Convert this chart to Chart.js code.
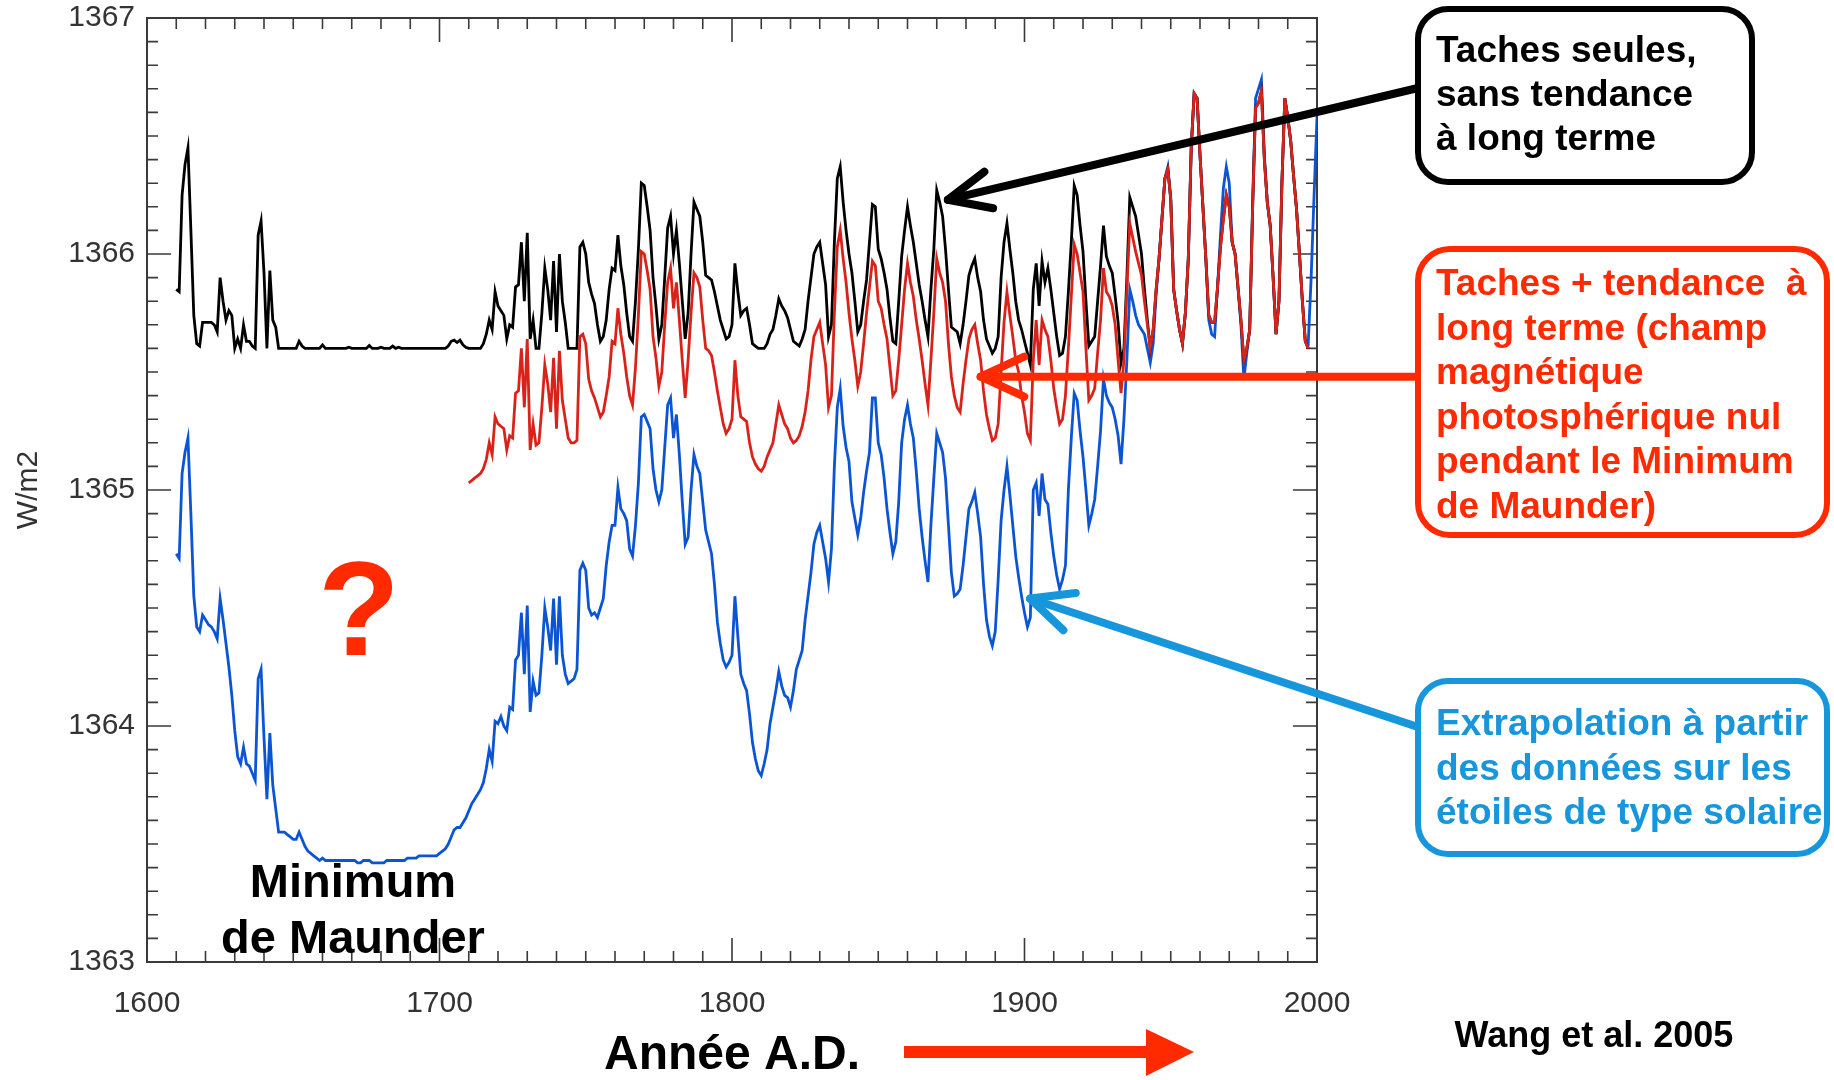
<!DOCTYPE html>
<html>
<head>
<meta charset="utf-8">
<script src="https://cdn.jsdelivr.net/npm/chart.js@4/dist/chart.umd.min.js"></script>
<style>
html,body{margin:0;padding:0;background:#fff;overflow:hidden}
canvas{display:block}
</style>
</head>
<body>
<canvas id="c" width="1834" height="1080"></canvas>
<script>
// ---------- DATA ----------
const years = [
1610,1611,1612,1613,1614,1615,1616,1617,1618,1619,
1620,1621,1622,1623,1624,1625,1626,1627,1628,1629,
1630,1631,1632,1633,1634,1635,1636,1637,1638,1639,
1640,1641,1642,1643,1644,1645,1646,1647,1648,1649,
1650,1651,1652,1653,1654,1655,1656,1657,1658,1659,
1660,1661,1662,1663,1664,1665,1666,1667,1668,1669,
1670,1671,1672,1673,1674,1675,1676,1677,1678,1679,
1680,1681,1682,1683,1684,1685,1686,1687,1688,1689,
1690,1691,1692,1693,1694,1695,1696,1697,1698,1699,
1700,1701,1702,1703,1704,1705,1706,1707,1708,1709,
1710,1711,1712,1713,1714,1715,1716,1717,1718,1719,
1720,1721,1722,1723,1724,1725,1726,1727,1728,1729,
1730,1731,1732,1733,1734,1735,1736,1737,1738,1739,
1740,1741,1742,1743,1744,1745,1746,1747,1748,1749,
1750,1751,1752,1753,1754,1755,1756,1757,1758,1759,
1760,1761,1762,1763,1764,1765,1766,1767,1768,1769,
1770,1771,1772,1773,1774,1775,1776,1777,1778,1779,
1780,1781,1782,1783,1784,1785,1786,1787,1788,1789,
1790,1791,1792,1793,1794,1795,1796,1797,1798,1799,
1800,1801,1802,1803,1804,1805,1806,1807,1808,1809,
1810,1811,1812,1813,1814,1815,1816,1817,1818,1819,
1820,1821,1822,1823,1824,1825,1826,1827,1828,1829,
1830,1831,1832,1833,1834,1835,1836,1837,1838,1839,
1840,1841,1842,1843,1844,1845,1846,1847,1848,1849,
1850,1851,1852,1853,1854,1855,1856,1857,1858,1859,
1860,1861,1862,1863,1864,1865,1866,1867,1868,1869,
1870,1871,1872,1873,1874,1875,1876,1877,1878,1879,
1880,1881,1882,1883,1884,1885,1886,1887,1888,1889,
1890,1891,1892,1893,1894,1895,1896,1897,1898,1899,
1900,1901,1902,1903,1904,1905,1906,1907,1908,1909,
1910,1911,1912,1913,1914,1915,1916,1917,1918,1919,
1920,1921,1922,1923,1924,1925,1926,1927,1928,1929,
1930,1931,1932,1933,1934,1935,1936,1937,1938,1939,
1940,1941,1942,1943,1944,1945,1946,1947,1948,1949,
1950,1951,1952,1953,1954,1955,1956,1957,1958,1959,
1960,1961,1962,1963,1964,1965,1966,1967,1968,1969,
1970,1971,1972,1973,1974,1975,1976,1977,1978,1979,
1980,1981,1982,1983,1984,1985,1986,1987,1988,1989,
1990,1991,1992,1993,1994,1995,1996,1997,1998,1999,
2000];

// Black: sunspots only, no long-term trend (W/m2)
const sunspotsOnly = [
1365.85,1365.84,1366.25,1366.38,1366.45,1366.10,1365.74,1365.62,1365.61,1365.71,
1365.71,1365.71,1365.71,1365.70,1365.67,1365.90,1365.80,1365.72,1365.76,1365.74,
1365.60,1365.64,1365.60,1365.70,1365.63,1365.63,1365.61,1365.60,1366.08,1366.14,
1365.92,1365.60,1365.93,1365.72,1365.69,1365.60,1365.60,1365.60,1365.60,1365.60,
1365.60,1365.60,1365.63,1365.61,1365.60,1365.60,1365.60,1365.60,1365.60,1365.60,
1365.615,1365.60,1365.60,1365.60,1365.60,1365.60,1365.60,1365.60,1365.60,1365.605,
1365.60,1365.60,1365.60,1365.60,1365.60,1365.60,1365.612,1365.60,1365.60,1365.60,
1365.605,1365.60,1365.60,1365.60,1365.61,1365.60,1365.605,1365.60,1365.60,1365.60,
1365.60,1365.60,1365.60,1365.60,1365.60,1365.60,1365.60,1365.60,1365.60,1365.60,
1365.60,1365.60,1365.60,1365.61,1365.63,1365.635,1365.625,1365.635,1365.615,1365.605,
1365.60,1365.60,1365.60,1365.60,1365.60,1365.62,1365.66,1365.72,1365.68,1365.84,
1365.78,1365.76,1365.74,1365.64,1365.70,1365.69,1365.86,1365.87,1366.05,1365.80,
1366.09,1365.64,1365.72,1365.60,1365.60,1365.75,1365.94,1365.85,1365.72,1365.97,
1365.67,1366.00,1365.80,1365.71,1365.60,1365.60,1365.60,1365.60,1366.03,1366.05,
1366.00,1365.88,1365.83,1365.79,1365.70,1365.63,1365.65,1365.72,1365.85,1365.94,
1365.93,1366.08,1365.95,1365.87,1365.75,1365.65,1365.63,1365.80,1366.02,1366.30,
1366.29,1366.20,1366.10,1365.90,1365.78,1365.64,1365.70,1365.90,1366.11,1366.16,
1366.00,1366.10,1365.96,1365.80,1365.64,1365.75,1366.00,1366.22,1366.19,1366.16,
1366.05,1365.91,1365.90,1365.89,1365.84,1365.78,1365.72,1365.68,1365.64,1365.65,
1365.70,1365.96,1365.84,1365.74,1365.76,1365.77,1365.70,1365.62,1365.61,1365.60,
1365.60,1365.60,1365.62,1365.66,1365.68,1365.74,1365.81,1365.78,1365.76,1365.73,
1365.68,1365.63,1365.62,1365.61,1365.64,1365.68,1365.80,1365.90,1366.00,1366.03,
1366.05,1365.96,1365.87,1365.65,1365.70,1366.05,1366.32,1366.37,1366.22,1366.10,
1366.00,1365.92,1365.80,1365.67,1365.70,1365.80,1365.89,1366.05,1366.21,1366.20,
1366.02,1365.98,1365.92,1365.85,1365.73,1365.63,1365.62,1365.80,1365.99,1366.10,
1366.20,1366.12,1366.05,1365.96,1365.87,1365.80,1365.72,1365.65,1365.85,1366.02,
1366.27,1366.22,1366.16,1366.02,1365.85,1365.69,1365.68,1365.67,1365.62,1365.70,
1365.80,1365.91,1365.95,1365.98,1365.90,1365.84,1365.72,1365.64,1365.61,1365.58,
1365.60,1365.65,1365.90,1366.05,1366.13,1366.02,1365.92,1365.80,1365.72,1365.68,
1365.63,1365.58,1365.53,1365.85,1365.96,1365.78,1365.97,1365.88,1365.94,1365.85,
1365.75,1365.65,1365.57,1365.58,1365.65,1365.84,1366.05,1366.29,1366.25,1366.12,
1366.01,1365.80,1365.61,1365.63,1365.65,1365.80,1365.95,1366.12,1365.99,1365.95,
1365.92,1365.82,1365.71,1365.54,1365.60,1365.90,1366.24,1366.20,1366.16,1366.08,
1366.00,1365.85,1365.72,1365.60,1365.68,1365.85,1365.98,1366.15,1366.32,1366.36,
1366.23,1365.85,1365.76,1365.68,1365.62,1365.75,1365.98,1366.45,1366.68,1366.66,
1366.42,1366.20,1365.98,1365.74,1365.71,1365.71,1365.86,1366.03,1366.15,1366.25,
1366.20,1366.05,1366.00,1365.86,1365.72,1365.55,1365.60,1365.68,1366.20,1366.62,
1366.64,1366.69,1366.40,1366.22,1366.12,1365.90,1365.66,1365.80,1366.30,1366.66,
1366.58,1366.48,1366.33,1366.19,1366.00,1365.80,1365.63,1365.60,null,null,
null];

// Red: sunspots + long-term trend (zero photospheric field during the Maunder Minimum)
const withTrend = [
null,null,null,null,null,null,null,null,null,null,
null,null,null,null,null,null,null,null,null,null,
null,null,null,null,null,null,null,null,null,null,
null,null,null,null,null,null,null,null,null,null,
null,null,null,null,null,null,null,null,null,null,
null,null,null,null,null,null,null,null,null,null,
null,null,null,null,null,null,null,null,null,null,
null,null,null,null,null,null,null,null,null,null,
null,null,null,null,null,null,null,null,null,null,
null,null,null,null,null,null,null,null,null,null,
1365.03,1365.04,1365.05,1365.06,1365.07,1365.09,1365.13,1365.20,1365.15,1365.31,
1365.28,1365.27,1365.26,1365.17,1365.23,1365.22,1365.41,1365.42,1365.60,1365.35,
1365.64,1365.17,1365.28,1365.19,1365.20,1365.35,1365.53,1365.45,1365.33,1365.56,
1365.26,1365.59,1365.38,1365.30,1365.22,1365.20,1365.20,1365.21,1365.65,1365.66,
1365.62,1365.47,1365.42,1365.39,1365.35,1365.31,1365.33,1365.40,1365.48,1365.63,
1365.62,1365.77,1365.66,1365.58,1365.48,1365.40,1365.36,1365.52,1365.74,1366.01,
1366.00,1365.93,1365.85,1365.65,1365.56,1365.44,1365.50,1365.70,1365.88,1365.94,
1365.77,1365.88,1365.72,1365.55,1365.39,1365.55,1365.75,1365.92,1365.90,1365.86,
1365.72,1365.60,1365.59,1365.57,1365.50,1365.42,1365.35,1365.28,1365.24,1365.26,
1365.30,1365.55,1365.40,1365.31,1365.30,1365.29,1365.20,1365.14,1365.11,1365.09,
1365.08,1365.10,1365.14,1365.17,1365.20,1365.28,1365.36,1365.32,1365.28,1365.26,
1365.22,1365.20,1365.21,1365.23,1365.27,1365.33,1365.42,1365.55,1365.65,1365.68,
1365.71,1365.62,1365.53,1365.35,1365.40,1365.75,1366.03,1366.10,1365.98,1365.88,
1365.75,1365.64,1365.55,1365.44,1365.50,1365.62,1365.75,1365.86,1365.97,1365.95,
1365.80,1365.77,1365.70,1365.64,1365.52,1365.40,1365.42,1365.55,1365.70,1365.85,
1365.96,1365.88,1365.82,1365.72,1365.64,1365.55,1365.45,1365.36,1365.55,1365.75,
1365.98,1365.92,1365.88,1365.80,1365.62,1365.48,1365.40,1365.35,1365.33,1365.45,
1365.55,1365.64,1365.68,1365.70,1365.62,1365.55,1365.42,1365.32,1365.26,1365.21,
1365.22,1365.28,1365.50,1365.71,1365.84,1365.74,1365.65,1365.55,1365.50,1365.40,
1365.33,1365.24,1365.21,1365.55,1365.72,1365.53,1365.72,1365.68,1365.65,1365.55,
1365.43,1365.35,1365.28,1365.30,1365.40,1365.60,1365.82,1366.04,1366.00,1365.92,
1365.84,1365.60,1365.38,1365.40,1365.43,1365.58,1365.72,1365.94,1365.84,1365.82,
1365.78,1365.70,1365.55,1365.41,1365.55,1365.85,1366.13,1366.07,1366.01,1365.96,
1365.91,1365.80,1365.70,1365.60,1365.68,1365.85,1365.98,1366.15,1366.32,1366.36,
1366.23,1365.85,1365.76,1365.68,1365.62,1365.75,1365.98,1366.45,1366.68,1366.66,
1366.42,1366.20,1365.98,1365.74,1365.71,1365.71,1365.86,1366.03,1366.15,1366.25,
1366.20,1366.05,1366.00,1365.86,1365.72,1365.55,1365.60,1365.68,1366.20,1366.62,
1366.64,1366.69,1366.40,1366.22,1366.12,1365.90,1365.66,1365.80,1366.30,1366.66,
1366.58,1366.48,1366.33,1366.19,1366.00,1365.80,1365.63,1365.60,null,null,
null];

// Blue: extrapolation from data on solar-type stars
const stellarExtrap = [
1364.73,1364.71,1365.07,1365.16,1365.22,1364.90,1364.55,1364.42,1364.40,1364.47,
1364.45,1364.43,1364.42,1364.40,1364.37,1364.54,1364.45,1364.35,1364.25,1364.13,
1363.98,1363.87,1363.84,1363.91,1363.84,1363.83,1363.80,1363.77,1364.20,1364.24,
1363.95,1363.69,1363.97,1363.75,1363.65,1363.55,1363.55,1363.55,1363.54,1363.53,
1363.52,1363.52,1363.55,1363.52,1363.49,1363.47,1363.46,1363.45,1363.44,1363.43,
1363.44,1363.43,1363.43,1363.43,1363.43,1363.43,1363.43,1363.43,1363.43,1363.43,
1363.43,1363.43,1363.42,1363.42,1363.43,1363.43,1363.43,1363.42,1363.42,1363.42,
1363.42,1363.42,1363.43,1363.43,1363.43,1363.43,1363.43,1363.43,1363.43,1363.44,
1363.44,1363.44,1363.44,1363.45,1363.45,1363.45,1363.45,1363.45,1363.45,1363.45,
1363.46,1363.47,1363.48,1363.50,1363.53,1363.56,1363.57,1363.57,1363.59,1363.61,
1363.64,1363.67,1363.69,1363.71,1363.73,1363.76,1363.82,1363.90,1363.85,1364.02,
1364.01,1364.04,1364.00,1363.98,1364.08,1364.07,1364.28,1364.30,1364.48,1364.22,
1364.51,1364.06,1364.19,1364.13,1364.14,1364.30,1364.50,1364.42,1364.32,1364.54,
1364.26,1364.55,1364.30,1364.22,1364.18,1364.19,1364.20,1364.24,1364.66,1364.69,
1364.66,1364.50,1364.47,1364.48,1364.46,1364.50,1364.54,1364.68,1364.78,1364.85,
1364.85,1365.01,1364.92,1364.90,1364.87,1364.75,1364.72,1364.85,1365.03,1365.31,
1365.32,1365.29,1365.26,1365.09,1365.00,1364.95,1365.00,1365.18,1365.36,1365.39,
1365.22,1365.32,1365.15,1364.95,1364.77,1364.80,1365.00,1365.15,1365.10,1365.07,
1364.95,1364.83,1364.78,1364.73,1364.60,1364.44,1364.35,1364.28,1364.25,1364.27,
1364.30,1364.55,1364.38,1364.22,1364.18,1364.15,1364.05,1363.93,1363.86,1363.81,
1363.79,1363.84,1363.90,1364.01,1364.08,1364.15,1364.23,1364.17,1364.13,1364.12,
1364.08,1364.15,1364.24,1364.28,1364.32,1364.45,1364.55,1364.65,1364.77,1364.82,
1364.85,1364.78,1364.71,1364.61,1364.75,1365.10,1365.35,1365.43,1365.27,1365.18,
1365.12,1364.95,1364.88,1364.81,1364.88,1364.99,1365.08,1365.16,1365.39,1365.39,
1365.20,1365.15,1365.05,1364.92,1364.82,1364.73,1364.78,1364.95,1365.20,1365.30,
1365.36,1365.28,1365.22,1365.08,1364.92,1364.80,1364.70,1364.61,1364.85,1365.05,
1365.24,1365.20,1365.16,1365.05,1364.85,1364.65,1364.55,1364.56,1364.58,1364.68,
1364.80,1364.92,1364.95,1364.99,1364.90,1364.80,1364.60,1364.45,1364.38,1364.34,
1364.40,1364.62,1364.87,1365.00,1365.10,1364.98,1364.85,1364.72,1364.63,1364.55,
1364.48,1364.42,1364.46,1365.00,1365.03,1364.89,1365.07,1364.96,1364.94,1364.82,
1364.72,1364.64,1364.58,1364.62,1364.68,1365.00,1365.22,1365.41,1365.38,1365.25,
1365.14,1365.00,1364.85,1364.90,1364.96,1365.10,1365.25,1365.47,1365.40,1365.37,
1365.35,1365.30,1365.23,1365.11,1365.30,1365.55,1365.85,1365.80,1365.74,1365.70,
1365.68,1365.66,1365.60,1365.54,1365.62,1365.83,1365.98,1366.15,1366.32,1366.37,
1366.24,1365.85,1365.76,1365.68,1365.62,1365.75,1365.98,1366.45,1366.68,1366.66,
1366.42,1366.20,1365.98,1365.72,1365.66,1365.65,1365.86,1366.08,1366.28,1366.37,
1366.30,1366.05,1366.00,1365.85,1365.70,1365.47,1365.58,1365.68,1366.22,1366.66,
1366.70,1366.74,1366.42,1366.22,1366.12,1365.90,1365.66,1365.80,1366.30,1366.66,
1366.58,1366.48,1366.33,1366.19,1366.00,1365.80,1365.63,1365.62,1365.90,1366.25,
1366.58];

const xTickValues = [1600, 1700, 1800, 1900, 2000];
const yTickValues = [1363, 1364, 1365, 1366, 1367];

// ---------- annotation texts ----------
const boxBlackLines = ['Taches seules,', 'sans tendance', 'à long terme'];
const boxRedLines = ['Taches + tendance  à', 'long terme (champ', 'magnétique', 'photosphérique nul', 'pendant le Minimum', 'de Maunder)'];
const boxBlueLines = ['Extrapolation à partir', 'des données sur les', 'étoiles de type solaire'];

// ---------- styles ----------
const RED_ANN = '#ff2a00';
const BLUE_ANN = '#1896dc';
const FONT = "'Liberation Sans', Arial, Helvetica, sans-serif";
Chart.defaults.font.family = FONT;

const toXY = (vals) => years.map((yr, i) => ({ x: yr, y: vals[i] }));

// frame + inward ticks (drawn under the data lines)
const framePlugin = {
  id: 'frameTicks',
  beforeDatasetsDraw(chart) {
    const { ctx, chartArea: a, scales: { x, y } } = chart;
    ctx.save();
    ctx.strokeStyle = '#3a3a3a';
    ctx.lineWidth = 2;
    ctx.strokeRect(a.left, a.top, a.right - a.left, a.bottom - a.top);
    ctx.lineWidth = 1.6;
    ctx.beginPath();
    for (let i = 0; i <= 40; i++) {
      const v = yTickValues[0] + i * 0.1;
      const py = y.getPixelForValue(v);
      const len = (i % 10 === 0) ? 24 : 11;
      ctx.moveTo(a.left, py); ctx.lineTo(a.left + len, py);
      ctx.moveTo(a.right, py); ctx.lineTo(a.right - len, py);
    }
    for (let i = 0; i <= 40; i++) {
      const v = xTickValues[0] + i * 10;
      const px = x.getPixelForValue(v);
      const len = (i % 10 === 0) ? 24 : 11;
      ctx.moveTo(px, a.bottom); ctx.lineTo(px, a.bottom - len);
      ctx.moveTo(px, a.top); ctx.lineTo(px, a.top + len);
    }
    ctx.stroke();
    ctx.restore();
  }
};

function chevronArrow(ctx, x0, y0, x1, y1, color, width, headLen, headAng) {
  ctx.save();
  ctx.strokeStyle = color;
  ctx.lineWidth = width;
  ctx.lineCap = 'round';
  ctx.lineJoin = 'round';
  ctx.beginPath();
  ctx.moveTo(x0, y0);
  ctx.lineTo(x1, y1);
  ctx.stroke();
  const ang = Math.atan2(y0 - y1, x0 - x1);
  ctx.beginPath();
  ctx.moveTo(x1 + headLen * Math.cos(ang + headAng), y1 + headLen * Math.sin(ang + headAng));
  ctx.lineTo(x1, y1);
  ctx.lineTo(x1 + headLen * Math.cos(ang - headAng), y1 + headLen * Math.sin(ang - headAng));
  ctx.stroke();
  ctx.restore();
}

function roundBox(ctx, x, y, w, h, r, color, lw) {
  ctx.save();
  ctx.strokeStyle = color;
  ctx.lineWidth = lw;
  ctx.fillStyle = '#fff';
  ctx.beginPath();
  ctx.moveTo(x + r, y);
  ctx.arcTo(x + w, y, x + w, y + h, r);
  ctx.arcTo(x + w, y + h, x, y + h, r);
  ctx.arcTo(x, y + h, x, y, r);
  ctx.arcTo(x, y, x + w, y, r);
  ctx.closePath();
  ctx.fill();
  ctx.stroke();
  ctx.restore();
}

function textLines(ctx, lines, x, y0, step, color, font) {
  ctx.save();
  ctx.fillStyle = color;
  ctx.font = font;
  ctx.textAlign = 'left';
  ctx.textBaseline = 'alphabetic';
  lines.forEach((t, i) => ctx.fillText(t, x, y0 + i * step));
  ctx.restore();
}

// arrow tips given in data coordinates
const arrowTips = {
  black: { x: 1873.8, y: 1366.23 },
  red:   { x: 1885.0, y: 1365.48 },
  blue:  { x: 1901.9, y: 1364.54 }
};

const annotPlugin = {
  id: 'annotations',
  afterDraw(chart) {
    const { ctx, scales: { x, y } } = chart;
    const boxFont = 'bold 37px ' + FONT;

    const bt = { x: x.getPixelForValue(arrowTips.black.x), y: y.getPixelForValue(arrowTips.black.y) };
    const rt = { x: x.getPixelForValue(arrowTips.red.x),   y: y.getPixelForValue(arrowTips.red.y) };
    const ut = { x: x.getPixelForValue(arrowTips.blue.x),  y: y.getPixelForValue(arrowTips.blue.y) };
    chevronArrow(ctx, 1418, 88, bt.x, bt.y, '#000', 8, 46, 0.42);
    chevronArrow(ctx, 1418, rt.y, rt.x, rt.y, RED_ANN, 8, 48, 0.43);
    chevronArrow(ctx, 1418, 727, ut.x, ut.y, BLUE_ANN, 8, 46, 0.44);

    roundBox(ctx, 1418, 9, 334, 173, 30, '#000', 6);
    roundBox(ctx, 1418, 249, 409, 286, 32, RED_ANN, 6);
    roundBox(ctx, 1418, 681, 409, 173, 30, BLUE_ANN, 6);
    textLines(ctx, boxBlackLines, 1436, 62, 44, '#000', boxFont);
    textLines(ctx, boxRedLines, 1436, 295, 44.6, RED_ANN, boxFont);
    textLines(ctx, boxBlueLines, 1436, 735, 44.5, BLUE_ANN, boxFont);

    ctx.save();
    ctx.fillStyle = RED_ANN;
    ctx.font = 'bold 134px ' + FONT;
    ctx.textAlign = 'center';
    ctx.textBaseline = 'alphabetic';
    ctx.fillText('?', 359, 655);
    ctx.fillStyle = '#000';
    ctx.font = 'bold 47px ' + FONT;
    ctx.fillText('Minimum', 353, 897);
    ctx.fillText('de Maunder', 353, 953);
    ctx.font = 'bold 36px ' + FONT;
    ctx.fillText('Wang et al. 2005', 1594, 1047);
    ctx.fillStyle = RED_ANN;
    ctx.fillRect(904, 1046, 246, 12);
    ctx.beginPath();
    ctx.moveTo(1146, 1029);
    ctx.lineTo(1194, 1052);
    ctx.lineTo(1146, 1076);
    ctx.closePath();
    ctx.fill();
    ctx.restore();
  }
};

new Chart(document.getElementById('c'), {
  type: 'line',
  data: {
    datasets: [
      { label: 'Taches + tendance à long terme', data: toXY(withTrend), borderColor: '#d9231a', borderWidth: 2.8, pointRadius: 0, tension: 0, order: 0 },
      { label: 'Taches seules', data: toXY(sunspotsOnly), borderColor: '#000000', borderWidth: 2.8, pointRadius: 0, tension: 0, order: 1 },
      { label: 'Extrapolation étoiles de type solaire', data: toXY(stellarExtrap), borderColor: '#0b55d4', borderWidth: 2.8, pointRadius: 0, tension: 0, order: 2 }
    ]
  },
  options: {
    responsive: false,
    animation: false,
    events: [],
    layout: { padding: { left: 0, top: 18, right: 517, bottom: 0 } },
    plugins: { legend: { display: false }, tooltip: { enabled: false } },
    scales: {
      x: {
        type: 'linear', position: 'bottom',
        min: xTickValues[0], max: xTickValues[xTickValues.length - 1],
        grid: { display: false, drawTicks: false },
        border: { display: false },
        afterBuildTicks: (s) => { s.ticks = xTickValues.map(v => ({ value: v })); },
        ticks: { padding: 24, font: { size: 30 }, color: '#333', maxRotation: 0, autoSkip: false, callback: (v) => String(v) },
        title: { display: true, text: 'Année A.D.', color: '#000', font: { size: 48, weight: 'bold', lineHeight: 1 }, padding: { top: 0, bottom: 0 } },
        afterFit: (s) => { s.height = 118; }
      },
      y: {
        type: 'linear', position: 'left',
        min: yTickValues[0], max: yTickValues[yTickValues.length - 1],
        grid: { display: false, drawTicks: false },
        border: { display: false },
        afterBuildTicks: (s) => { s.ticks = yTickValues.map(v => ({ value: v })); },
        ticks: { padding: 12, font: { size: 30, lineHeight: 0.2 }, color: '#333', callback: (v) => String(v) },
        title: { display: true, text: 'W/m2', color: '#333', font: { size: 30, lineHeight: 1 }, padding: { top: 14, bottom: 0 } },
        afterFit: (s) => { s.width = 147; }
      }
    }
  },
  plugins: [framePlugin, annotPlugin]
});
</script>
</body>
</html>
